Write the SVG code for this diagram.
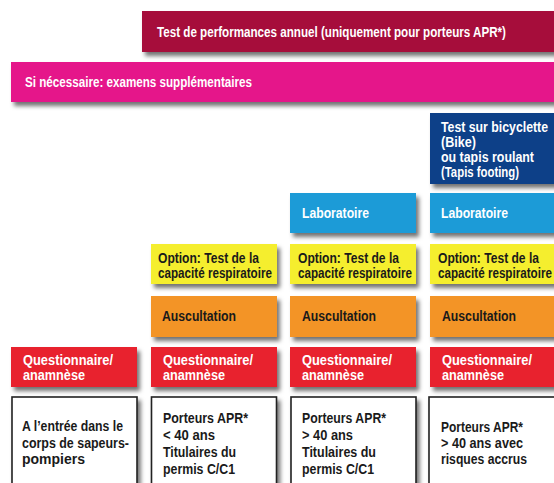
<svg xmlns="http://www.w3.org/2000/svg" width="554" height="483" viewBox="0 0 554 483">
<defs>
<filter id="sh" x="-10%" y="-20%" width="130%" height="160%">
<feDropShadow dx="3" dy="4" stdDeviation="2.2" flood-color="#000" flood-opacity="0.55"/>
</filter>
<style>
text{font-family:"Liberation Sans Narrow","Liberation Sans",Arial,sans-serif;font-weight:bold;font-size:14px}
.w{fill:#fff}
.k{fill:#1a1a1a}
.box{filter:url(#sh)}
.perf{fill:#A6093A}
.sup{fill:#E5168A}
.bike{fill:#0B3F88}
.lab{fill:#1C9BD7}
.opt{fill:#F5EE2E}
.aus{fill:#F39426}
.que{fill:#E8202F}
.pop{fill:#fff;stroke:#222;stroke-width:1.6}
</style>
</defs>
<rect width="554" height="483" fill="#fff"/>
<g id="connectors"/>

<g id="perf">
<rect class="box perf" x="142" y="11" width="420" height="41"/>
<text class="w" x="157" y="36.5" font-size="13.5" textLength="349" lengthAdjust="spacingAndGlyphs">Test de performances annuel (uniquement pour porteurs APR*)</text>
</g>
<g id="supp">
<rect class="box sup" x="11" y="62" width="551" height="40"/>
<text class="w" x="25" y="87" textLength="227" lengthAdjust="spacingAndGlyphs">Si nécessaire: examens supplémentaires</text>
</g>

<g id="bike">
<rect class="box bike" x="430" y="113" width="130" height="71"/>
<text class="w" x="441" y="131.5" textLength="107" lengthAdjust="spacingAndGlyphs">Test sur bicyclette</text>
<text class="w" x="441" y="146.5" textLength="35" lengthAdjust="spacingAndGlyphs">(Bike)</text>
<text class="w" x="441" y="161.5" textLength="93" lengthAdjust="spacingAndGlyphs">ou tapis roulant</text>
<text class="w" x="441" y="176.5" textLength="78" lengthAdjust="spacingAndGlyphs">(Tapis footing)</text>
</g>

<g id="lab3">
<rect class="box lab" x="290" y="193" width="126" height="40"/>
<text class="w" x="302" y="218" textLength="67" lengthAdjust="spacingAndGlyphs">Laboratoire</text>
</g>
<g id="lab4">
<rect class="box lab" x="430" y="193" width="130" height="40"/>
<text class="w" x="441" y="218" textLength="67" lengthAdjust="spacingAndGlyphs">Laboratoire</text>
</g>

<g id="opt2">
<rect class="box opt" x="151" y="244" width="126" height="40"/>
<text class="k" x="158" y="262.5" textLength="101" lengthAdjust="spacingAndGlyphs">Option: Test de la</text>
<text class="k" x="158" y="277.5" textLength="114" lengthAdjust="spacingAndGlyphs">capacité respiratoire</text>
</g>
<g id="opt3">
<rect class="box opt" x="290" y="244" width="126" height="40"/>
<text class="k" x="298" y="262.5" textLength="101" lengthAdjust="spacingAndGlyphs">Option: Test de la</text>
<text class="k" x="298" y="277.5" textLength="114" lengthAdjust="spacingAndGlyphs">capacité respiratoire</text>
</g>
<g id="opt4">
<rect class="box opt" x="430" y="244" width="130" height="40"/>
<text class="k" x="438" y="262.5" textLength="101" lengthAdjust="spacingAndGlyphs">Option: Test de la</text>
<text class="k" x="438" y="277.5" textLength="114" lengthAdjust="spacingAndGlyphs">capacité respiratoire</text>
</g>

<g id="aus2">
<rect class="box aus" x="151" y="296" width="126" height="41"/>
<text class="k" x="162" y="321" textLength="74" lengthAdjust="spacingAndGlyphs">Auscultation</text>
</g>
<g id="aus3">
<rect class="box aus" x="290" y="296" width="126" height="41"/>
<text class="k" x="302" y="321" textLength="74" lengthAdjust="spacingAndGlyphs">Auscultation</text>
</g>
<g id="aus4">
<rect class="box aus" x="430" y="296" width="130" height="41"/>
<text class="k" x="442" y="321" textLength="74" lengthAdjust="spacingAndGlyphs">Auscultation</text>
</g>

<g id="que1">
<rect class="box que" x="11" y="347" width="126" height="40"/>
<text class="w" x="23" y="365" textLength="90" lengthAdjust="spacingAndGlyphs">Questionnaire/</text>
<text class="w" x="23" y="379.5" textLength="62" lengthAdjust="spacingAndGlyphs">anamnèse</text>
</g>
<g id="que2">
<rect class="box que" x="151" y="347" width="126" height="40"/>
<text class="w" x="163" y="365" textLength="90" lengthAdjust="spacingAndGlyphs">Questionnaire/</text>
<text class="w" x="163" y="379.5" textLength="62" lengthAdjust="spacingAndGlyphs">anamnèse</text>
</g>
<g id="que3">
<rect class="box que" x="290" y="347" width="126" height="40"/>
<text class="w" x="302" y="365" textLength="90" lengthAdjust="spacingAndGlyphs">Questionnaire/</text>
<text class="w" x="302" y="379.5" textLength="62" lengthAdjust="spacingAndGlyphs">anamnèse</text>
</g>
<g id="que4">
<rect class="box que" x="430" y="347" width="130" height="40"/>
<text class="w" x="442" y="365" textLength="90" lengthAdjust="spacingAndGlyphs">Questionnaire/</text>
<text class="w" x="442" y="379.5" textLength="62" lengthAdjust="spacingAndGlyphs">anamnèse</text>
</g>

<g id="pop1">
<rect class="box pop" x="12" y="397" width="125" height="100"/>
<text class="k" x="22" y="431" textLength="101" lengthAdjust="spacingAndGlyphs">A l’entrée dans le</text>
<text class="k" x="22" y="447.5" textLength="107" lengthAdjust="spacingAndGlyphs">corps de sapeurs-</text>
<text class="k" x="22" y="463.5" textLength="63" lengthAdjust="spacingAndGlyphs">pompiers</text>
</g>
<g id="pop2">
<rect class="box pop" x="151.5" y="397" width="125" height="100"/>
<text class="k" x="163" y="422.5" textLength="85" lengthAdjust="spacingAndGlyphs">Porteurs APR*</text>
<text class="k" x="163" y="440" textLength="52" lengthAdjust="spacingAndGlyphs">&lt; 40 ans</text>
<text class="k" x="163" y="456.5" textLength="73" lengthAdjust="spacingAndGlyphs">Titulaires du</text>
<text class="k" x="163" y="473.5" textLength="72" lengthAdjust="spacingAndGlyphs">permis C/C1</text>
</g>
<g id="pop3">
<rect class="box pop" x="291" y="397" width="125" height="100"/>
<text class="k" x="302" y="422.5" textLength="84" lengthAdjust="spacingAndGlyphs">Porteurs APR*</text>
<text class="k" x="302" y="440" textLength="51" lengthAdjust="spacingAndGlyphs">&gt; 40 ans</text>
<text class="k" x="302" y="456.5" textLength="74" lengthAdjust="spacingAndGlyphs">Titulaires du</text>
<text class="k" x="302" y="473.5" textLength="72" lengthAdjust="spacingAndGlyphs">permis C/C1</text>
</g>
<g id="pop4">
<rect class="box pop" x="429" y="397" width="130" height="100"/>
<text class="k" x="441" y="431.5" textLength="82" lengthAdjust="spacingAndGlyphs">Porteurs APR*</text>
<text class="k" x="441" y="447.5" textLength="82" lengthAdjust="spacingAndGlyphs">&gt; 40 ans avec</text>
<text class="k" x="441" y="463.5" textLength="86" lengthAdjust="spacingAndGlyphs">risques accrus</text>
</g>
</svg>
